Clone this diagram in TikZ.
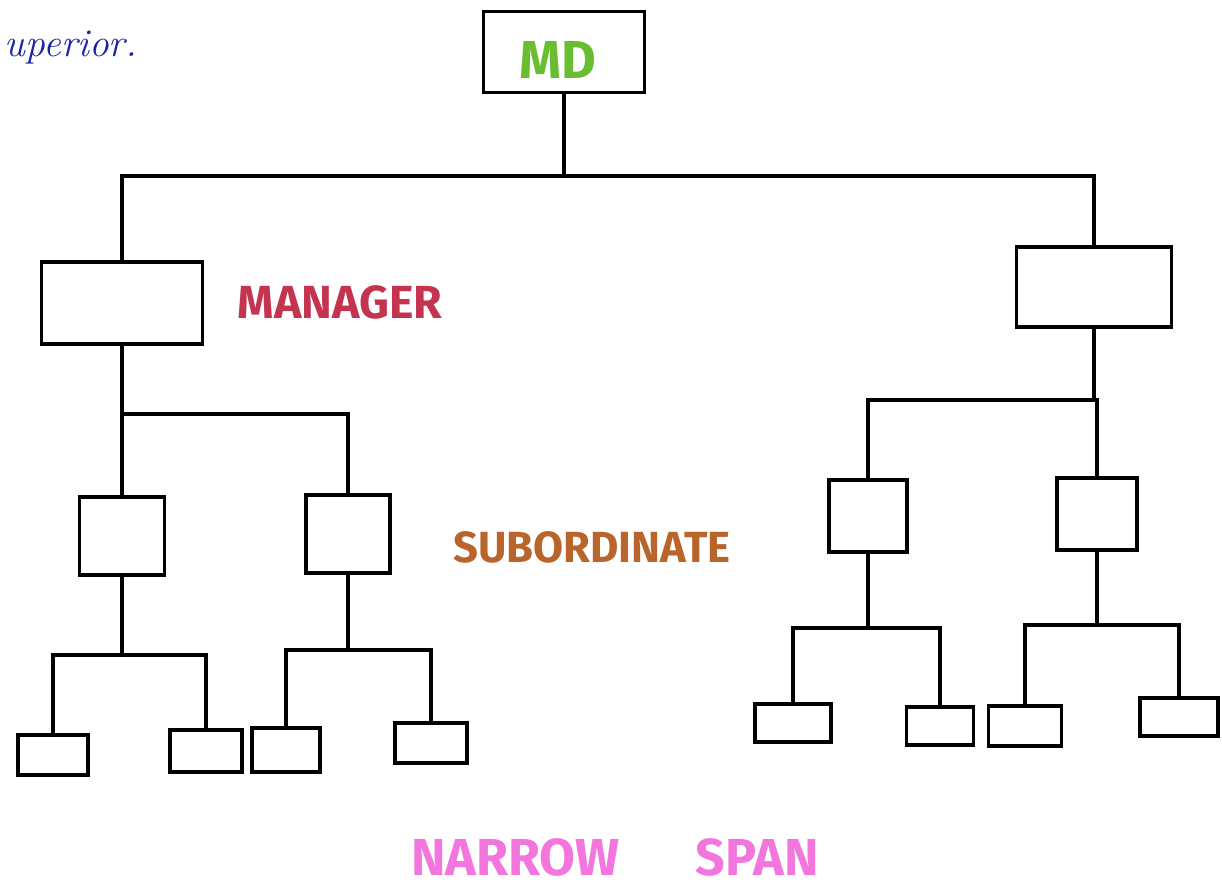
\documentclass[tikz,border=0pt]{standalone}
\usepackage{fontspec}
\usepackage{xcolor}
\setsansfont{Fira Sans}
\definecolor{mdgreen}{RGB}{104,190,48}
\definecolor{mgrred}{RGB}{196,52,78}
\definecolor{subbrown}{RGB}{184,100,42}
\definecolor{spanpink}{RGB}{242,118,222}
\definecolor{inkblue}{RGB}{28,36,168}
\tikzset{
  box/.style={draw, line width=2.3pt, inner sep=0pt},
  leaf/.style={box, minimum width=1.8cm, minimum height=1cm},
  link/.style={line width=2.3pt},
  tag/.style={font=\sffamily\bfseries\fontsize{33}{33}\selectfont}
}
\begin{document}
\begin{tikzpicture}[x=0.025cm,y=-0.025cm]
        \useasboundingbox (0,0) rectangle (1222,892);
        % top of the chart
        \node[box, minimum width=4.03cm, minimum height=2.03cm] (md) at (564,52) {};
        \node[text=mdgreen, font=\sffamily\bfseries\fontsize{38}{38}\selectfont] (mdtext) at (558,60) {MD};
        \node[box, minimum width=4.03cm, minimum height=2.05cm] (mL) at (122,303) {};
        \node[box, minimum width=3.88cm, minimum height=2cm] (mR) at (1094,287) {};
        % subordinates
        \node[box, minimum width=2.13cm, minimum height=1.95cm] (s1) at (122,536) {};
        \node[box, minimum width=2.1cm, minimum height=1.95cm] (s2) at (348,534) {};
        \node[box, minimum width=1.95cm, minimum height=1.8cm] (s3) at (868,516) {};
        \node[box, minimum width=2cm, minimum height=1.8cm] (s4) at (1097,514) {};
        % bottom row
        \node[leaf, minimum width=1.75cm] (l1) at (53,755) {};
        \node[leaf, minimum height=1.05cm] (l2) at (206,751) {};
        \node[leaf, minimum width=1.7cm, minimum height=1.1cm] (l3) at (286,750) {};
        \node[leaf] (l4) at (431,743) {};
        \node[leaf, minimum width=1.9cm, minimum height=0.95cm] (l5) at (793,723) {};
        \node[leaf, minimum width=1.68cm, minimum height=0.95cm] (l6) at (940,726) {};
        \node[leaf, minimum width=1.83cm] (l7) at (1025,726) {};
        \node[leaf, minimum width=1.95cm, minimum height=0.95cm] (l8) at (1179,717) {};
        % bus points
        \coordinate (b0) at (564,176);
        \coordinate (bL) at (122,414);
        \coordinate (bR) at (1097,400);
        \coordinate (bs1) at (122,655);
        \coordinate (bs2) at (348,650);
        \coordinate (bs3) at (868,628);
        \coordinate (bs4) at (1097,625);
        \draw[link] (md.south) -- (b0);
        \draw[link] (mL.north) |- (b0) -| (mR.north);
        \draw[link] (mL.south) -- (bL);
        \draw[link] (s1.north) |- (bL) -| (s2.north);
        \draw[link] (mR.south) -- (mR.south |- bR);
        \draw[link] (s3.north) |- (bR) -| (s4.north);
        \draw[link] (s1.south) -- (bs1);
        \draw[link] (l1.north) |- (bs1) -| (l2.north);
        \draw[link] (s2.south) -- (bs2);
        \draw[link] (l3.north) |- (bs2) -| (l4.north);
        \draw[link] (s3.south) -- (bs3);
        \draw[link] (l5.north) |- (bs3) -| (l6.north);
        \draw[link] (s4.south) -- (bs4);
        \draw[link] (l7.north) |- (bs4) -| (l8.north);
        % labels
        \node[tag, text=mgrred] (mgr) at (340,302) {MANAGER};
        \node[tag, text=subbrown, font=\sffamily\bfseries\fontsize{31}{31}\selectfont] (sub) at (592,547) {SUBORDINATE};
        \node[text=spanpink, font=\sffamily\bfseries\fontsize{37}{37}\selectfont] (span) at (615,857) {NARROW\hspace{1.9cm}SPAN};
        \node[text=inkblue, anchor=west, font=\itshape\fontsize{28}{28}\selectfont] (sup) at (0,48) {uperior.};
\end{tikzpicture}
\end{document}
